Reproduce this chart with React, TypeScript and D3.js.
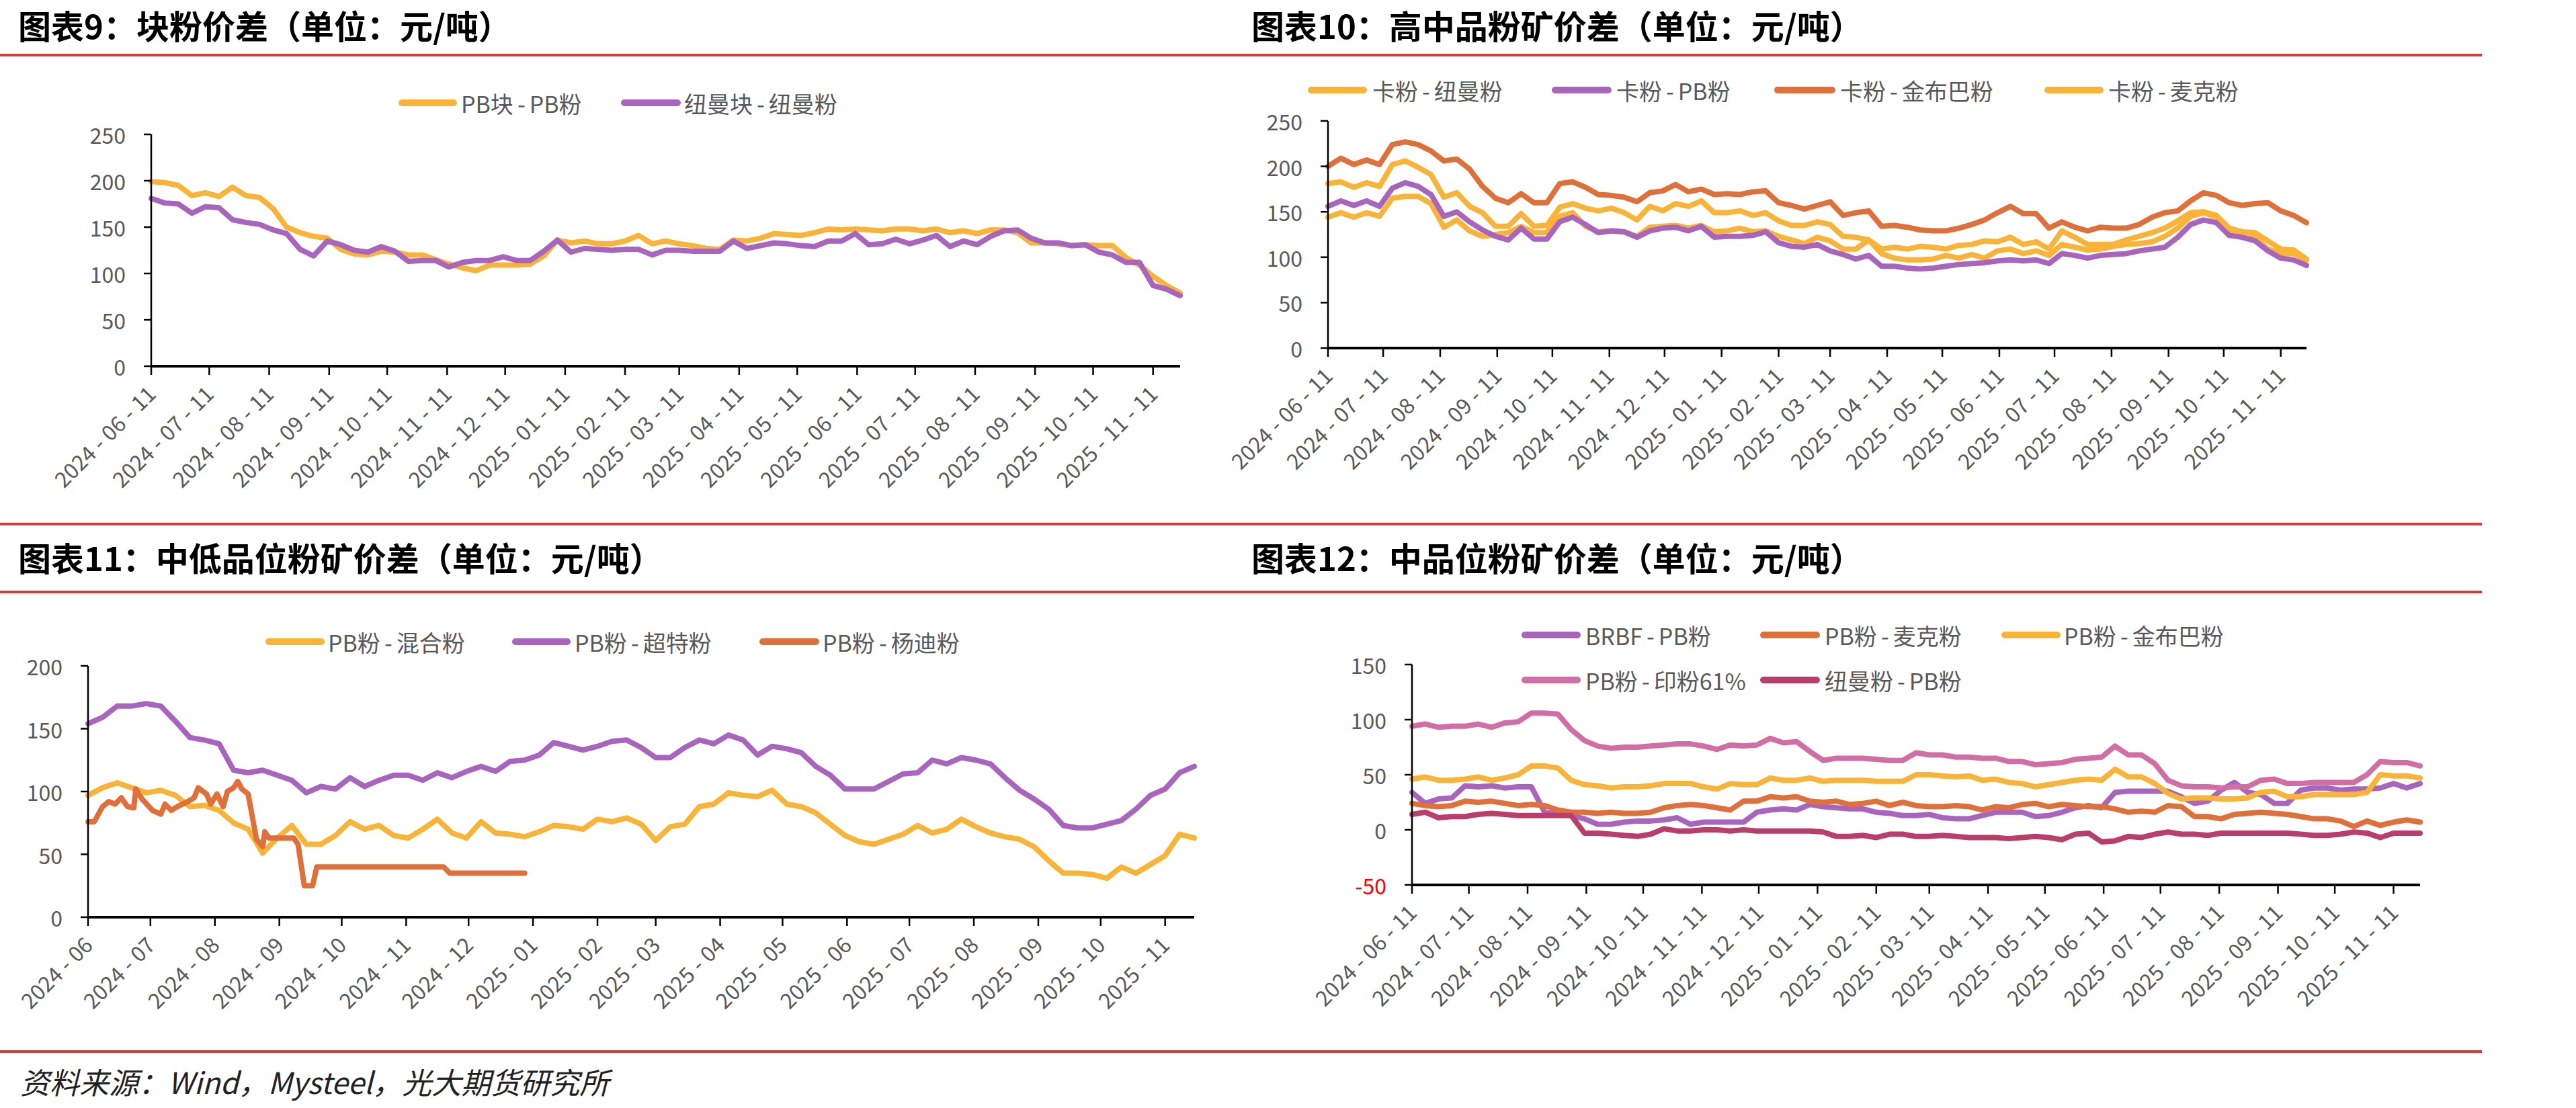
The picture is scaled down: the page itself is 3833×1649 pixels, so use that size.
import React from "react";
import * as d3 from "d3";

const FONT = '"Noto Sans CJK SC", "Noto Sans", sans-serif';
const W = 3833;
const H = 1649;

const YELLOW = "#F9B437";
const PURPLE = "#A965BE";
const ORANGE = "#E0703A";
const PINK = "#D26EA6";
const CRIMSON = "#BA3D6A";
const RED_RULE = "#D93A3A";
const GREY = "#595959";

// ---------- x-axis tick labels ----------
const dayTicks = [
  "2024-06-11", "2024-07-11", "2024-08-11", "2024-09-11", "2024-10-11", "2024-11-11",
  "2024-12-11", "2025-01-11", "2025-02-11", "2025-03-11", "2025-04-11", "2025-05-11",
  "2025-06-11", "2025-07-11", "2025-08-11", "2025-09-11", "2025-10-11", "2025-11-11",
];
const monthTicks = [
  "2024-06", "2024-07", "2024-08", "2024-09", "2024-10", "2024-11",
  "2024-12", "2025-01", "2025-02", "2025-03", "2025-04", "2025-05",
  "2025-06", "2025-07", "2025-08", "2025-09", "2025-10", "2025-11",
];

// ---------- 图表9: 块粉价差 (weekly from 2024-06-11) ----------
const pbLumpFines = [
  199, 198, 195, 184, 187, 183, 193, 184, 182, 170, 150, 144, 140, 138, 126, 121, 120, 124, 123, 120,
  120, 115, 110, 106, 103, 109, 109, 109, 110, 119, 136, 133, 135, 132, 132, 135, 141, 132, 135,
  132, 130, 127, 126, 136, 135, 138, 143, 142, 141, 144, 148, 147, 148, 147, 146, 148, 148, 146, 148,
  144, 146, 143, 147, 147, 144, 133, 133, 132, 130, 131, 130, 130, 117, 109, 97, 87, 79,
];
const newmanLumpFines = [
  181, 176, 175, 165, 172, 171, 158, 155, 153, 147, 143, 126, 119, 135, 131, 125, 123, 129, 124, 113,
  114, 114, 107, 112, 114, 114, 118, 114, 114, 124, 136, 123, 127, 126, 125, 126, 126, 120, 125,
  125, 124, 124, 124, 135, 127, 130, 133, 132, 130, 129, 135, 135, 143, 131, 132, 137, 132, 136, 141,
  129, 135, 131, 140, 146, 147, 138, 133, 133, 130, 131, 123, 120, 112, 112, 87, 83, 76,
];

// ---------- 图表10: 高中品粉矿价差 (weekly from 2024-06-11) ----------
const carajasNewman = [
  144, 149, 144, 149, 145, 165, 167, 167, 159, 133, 141, 129, 123, 125, 127, 134, 127, 127, 145, 149,
  134, 128, 129, 128, 123, 133, 134, 135, 132, 135, 128, 129, 132, 128, 129, 123, 119, 115, 122,
  118, 109, 109, 119, 104, 99, 97, 97, 98, 102, 99, 103, 99, 107, 109, 104, 107, 102, 114, 111,
  108, 109, 112, 114, 115, 117, 123, 132, 145, 149, 144, 128, 124, 122, 109, 104, 104, 97,
];
const carajasPB = [
  156, 162, 157, 162, 156, 176, 182, 178, 169, 145, 150, 139, 130, 123, 119, 132, 120, 120, 139, 144,
  136, 127, 129, 128, 122, 129, 132, 133, 129, 134, 122, 123, 123, 124, 128, 116, 112, 111, 114,
  107, 103, 98, 102, 90, 90, 88, 87, 88, 90, 92, 93, 94, 96, 97, 96, 97, 93, 104, 102,
  99, 102, 103, 104, 107, 109, 111, 122, 136, 141, 138, 124, 122, 118, 107, 99, 97, 91,
];
const carajasJimblebar = [
  200, 209, 202, 207, 202, 224, 227, 224, 217, 206, 208, 197, 178, 165, 160, 170, 160, 160, 181, 183,
  177, 169, 168, 166, 161, 171, 173, 180, 172, 175, 169, 170, 169, 172, 173, 160, 157, 153, 157,
  161, 146, 149, 151, 134, 135, 133, 130, 129, 129, 132, 136, 141, 149, 156, 148, 148, 132, 139, 133,
  129, 133, 132, 132, 136, 144, 149, 151, 162, 171, 168, 160, 157, 159, 160, 151, 146, 138,
];
const carajasMac = [
  181, 183, 177, 182, 178, 202, 206, 199, 191, 166, 171, 156, 149, 134, 134, 148, 134, 135, 155, 159,
  154, 151, 154, 149, 141, 156, 151, 159, 156, 162, 149, 149, 151, 146, 149, 140, 135, 135, 139,
  136, 123, 122, 119, 109, 111, 109, 112, 111, 109, 113, 114, 118, 117, 122, 114, 117, 109, 129, 122,
  114, 114, 114, 119, 123, 127, 132, 140, 149, 150, 146, 132, 128, 127, 118, 109, 108, 98,
];

// ---------- 图表11: 中低品位粉矿价差 (weekly from 2024-06-01) ----------
const pbMixed = [
  97, 103, 107, 103, 99, 101, 97, 88, 89, 85, 75, 70, 51, 63, 73, 58, 58, 65, 76, 70,
  73, 65, 63, 70, 78, 67, 63, 76, 67, 66, 64, 68, 73, 72, 70, 78, 76, 79, 74,
  61, 72, 74, 88, 90, 99, 97, 96, 101, 90, 88, 83, 74, 65, 60, 58, 62, 66, 73, 67,
  70, 78, 72, 67, 64, 62, 56, 45, 35, 35, 34, 31, 40, 35, 42, 49, 66, 63,
];
const pbSuperSpecial = [
  154, 159, 168, 168, 170, 168, 156, 143, 141, 138, 117, 115, 117, 113, 109, 99, 104, 102, 111, 104,
  109, 113, 113, 109, 115, 111, 116, 120, 116, 124, 125, 129, 139, 136, 133, 136, 140, 141, 135,
  127, 127, 135, 141, 138, 145, 141, 129, 136, 134, 131, 120, 113, 102, 102, 102, 108, 114, 115, 125,
  122, 127, 125, 122, 111, 101, 94, 86, 73, 71, 71, 74, 77, 86, 97, 102, 115, 120,
];
// PB粉-杨迪粉 is quoted irregularly, so it keeps its own dates
const yandiDates = [
  "2024-06-01", "2024-06-04", "2024-06-08", "2024-06-11", "2024-06-14", "2024-06-17", "2024-06-20",
  "2024-06-23", "2024-06-24", "2024-06-27", "2024-07-02", "2024-07-06", "2024-07-08", "2024-07-11",
  "2024-07-14", "2024-07-19", "2024-07-22", "2024-07-24", "2024-07-28", "2024-07-30", "2024-08-02",
  "2024-08-05", "2024-08-07", "2024-08-10", "2024-08-12", "2024-08-14", "2024-08-17", "2024-08-19",
  "2024-08-21", "2024-08-24", "2024-08-25", "2024-08-27", "2024-09-08", "2024-09-10", "2024-09-13",
  "2024-09-17", "2024-09-19", "2024-11-19", "2024-11-22", "2024-12-28",
];
const pbYandi = [
  76, 76, 88, 92, 90, 95, 88, 87, 102, 94, 85, 82, 90, 85, 88, 92, 95, 103, 98, 90,
  98, 88, 100, 103, 108, 102, 98, 80, 62, 56, 68, 63, 63, 58, 25, 25, 40, 40, 35, 35,
];

// ---------- 图表12: 中品位粉矿价差 (weekly from 2024-06-11) ----------
const brbfPB = [
  34, 24, 28, 29, 40, 39, 40, 38, 39, 39, 16, 14, 13, 10, 5, 5, 7, 8, 8, 9,
  11, 5, 7, 7, 7, 7, 16, 18, 19, 18, 23, 21, 20, 19, 19, 16, 15, 13, 13,
  14, 11, 10, 10, 13, 16, 16, 16, 12, 13, 16, 20, 22, 20, 34, 35, 35, 35, 35, 30,
  24, 26, 36, 43, 34, 32, 24, 24, 36, 38, 38, 36, 37, 37, 38, 42, 38, 42,
];
const pbMac = [
  24, 22, 21, 22, 26, 25, 26, 24, 22, 23, 22, 18, 16, 16, 15, 16, 15, 15, 16, 20,
  22, 23, 22, 20, 18, 26, 26, 30, 29, 30, 26, 25, 26, 23, 24, 26, 22, 25, 22,
  21, 21, 22, 21, 18, 21, 20, 23, 24, 21, 23, 22, 21, 21, 19, 16, 17, 16, 22, 21,
  12, 12, 10, 14, 15, 16, 15, 14, 12, 10, 10, 8, 3, 8, 4, 7, 9, 7,
];
const pbJimblebar = [
  46, 48, 45, 45, 46, 48, 45, 47, 50, 58, 58, 56, 45, 41, 40, 38, 39, 39, 40, 42,
  42, 42, 39, 37, 42, 41, 41, 47, 45, 45, 47, 44, 45, 45, 45, 44, 44, 44, 50,
  50, 49, 48, 49, 45, 46, 43, 42, 39, 41, 43, 45, 46, 45, 55, 48, 48, 42, 33, 28,
  29, 29, 28, 28, 29, 34, 35, 30, 30, 32, 32, 32, 32, 34, 50, 49, 49, 47,
];
const pbIndia61 = [
  94, 96, 93, 94, 94, 96, 93, 97, 98, 106, 106, 105, 91, 81, 76, 74, 75, 75, 76, 77,
  78, 78, 76, 73, 77, 76, 77, 83, 79, 80, 71, 63, 65, 65, 65, 64, 63, 63, 70,
  68, 68, 66, 66, 65, 65, 62, 62, 59, 60, 61, 64, 65, 66, 76, 68, 68, 60, 45, 40,
  39, 39, 38, 39, 39, 45, 46, 42, 42, 43, 43, 43, 43, 50, 62, 61, 61, 58,
];
const newmanPB = [
  14, 16, 11, 12, 12, 14, 15, 14, 13, 13, 13, 13, 13, -3, -3, -4, -5, -6, -4, 1,
  -1, -1, 0, 0, -1, 0, -1, -1, -1, -1, -1, -2, -6, -6, -5, -7, -4, -4, -6,
  -6, -5, -6, -7, -7, -7, -8, -7, -6, -7, -9, -4, -3, -11, -10, -6, -7, -4, -2, -4,
  -4, -5, -3, -3, -3, -3, -3, -3, -4, -5, -5, -4, -2, -3, -7, -3, -3, -3,
];

// ---------- helpers ----------
const parseDay = d3.timeParse("%Y-%m-%d");
const parseMonth = d3.timeParse("%Y-%m");
const weekly = (start: string, n: number) =>
  d3.range(n).map((i) => d3.timeDay.offset(parseDay(start) as Date, 7 * i));

type Series = { name: string; color: string; dates: Date[]; values: number[] };
type LegendItem = { name: string; color: string; x0: number; x1: number; tx: number };
type Panel = {
  key: string;
  title: string;
  titleX: number;
  titleY: number;
  xRange: [number, number];
  xDomain: [Date, Date];
  yRange: [number, number];
  yDomain: [number, number];
  yTicks: number[];
  xTicks: { date: Date; label: string }[];
  series: Series[];
  legend: { y: number; items: LegendItem[] }[];
};

const d1 = weekly("2024-06-11", 77);
const d3w = weekly("2024-06-01", 77);
const dayTickObjs = dayTicks.map((t) => ({ date: parseDay(t) as Date, label: t }));
const monthTickObjs = monthTicks.map((t) => ({ date: parseMonth(t) as Date, label: t }));

const panels: Panel[] = [
  {
    key: "p9",
    title: "图表9：块粉价差（单位：元/吨）",
    titleX: 27,
    titleY: 58,
    xRange: [225, 1756],
    xDomain: [parseDay("2024-06-11") as Date, parseDay("2025-11-25") as Date],
    yRange: [545, 200],
    yDomain: [0, 250],
    yTicks: [0, 50, 100, 150, 200, 250],
    xTicks: dayTickObjs,
    series: [
      { name: "PB块-PB粉", color: YELLOW, dates: d1, values: pbLumpFines },
      { name: "纽曼块-纽曼粉", color: PURPLE, dates: d1, values: newmanLumpFines },
    ],
    legend: [
      {
        y: 153,
        items: [
          { name: "PB块-PB粉", color: YELLOW, x0: 594, x1: 679, tx: 686 },
          { name: "纽曼块-纽曼粉", color: PURPLE, x0: 925, x1: 1012, tx: 1018 },
        ],
      },
    ],
  },
  {
    key: "p10",
    title: "图表10：高中品粉矿价差（单位：元/吨）",
    titleX: 1862,
    titleY: 58,
    xRange: [1976, 3432],
    xDomain: [parseDay("2024-06-11") as Date, parseDay("2025-11-25") as Date],
    yRange: [518, 180],
    yDomain: [0, 250],
    yTicks: [0, 50, 100, 150, 200, 250],
    xTicks: dayTickObjs,
    series: [
      { name: "卡粉-纽曼粉", color: YELLOW, dates: d1, values: carajasNewman },
      { name: "卡粉-PB粉", color: PURPLE, dates: d1, values: carajasPB },
      { name: "卡粉-金布巴粉", color: ORANGE, dates: d1, values: carajasJimblebar },
      { name: "卡粉-麦克粉", color: YELLOW, dates: d1, values: carajasMac },
    ],
    legend: [
      {
        y: 134,
        items: [
          { name: "卡粉-纽曼粉", color: YELLOW, x0: 1947, x1: 2033, tx: 2042 },
          { name: "卡粉-PB粉", color: PURPLE, x0: 2310, x1: 2397, tx: 2405 },
          { name: "卡粉-金布巴粉", color: ORANGE, x0: 2641, x1: 2730, tx: 2738 },
          { name: "卡粉-麦克粉", color: YELLOW, x0: 3043, x1: 3129, tx: 3137 },
        ],
      },
    ],
  },
  {
    key: "p11",
    title: "图表11：中低品位粉矿价差（单位：元/吨）",
    titleX: 27,
    titleY: 850,
    xRange: [131, 1777],
    xDomain: [parseDay("2024-06-01") as Date, parseDay("2025-11-15") as Date],
    yRange: [1365, 991],
    yDomain: [0, 200],
    yTicks: [0, 50, 100, 150, 200],
    xTicks: monthTickObjs,
    series: [
      { name: "PB粉-混合粉", color: YELLOW, dates: d3w, values: pbMixed },
      { name: "PB粉-超特粉", color: PURPLE, dates: d3w, values: pbSuperSpecial },
      {
        name: "PB粉-杨迪粉",
        color: ORANGE,
        dates: yandiDates.map((s) => parseDay(s) as Date),
        values: pbYandi,
      },
    ],
    legend: [
      {
        y: 955,
        items: [
          { name: "PB粉-混合粉", color: YELLOW, x0: 396, x1: 482, tx: 488 },
          { name: "PB粉-超特粉", color: PURPLE, x0: 763, x1: 848, tx: 855 },
          { name: "PB粉-杨迪粉", color: ORANGE, x0: 1131, x1: 1218, tx: 1224 },
        ],
      },
    ],
  },
  {
    key: "p12",
    title: "图表12：中品位粉矿价差（单位：元/吨）",
    titleX: 1862,
    titleY: 850,
    xRange: [2101, 3601],
    xDomain: [parseDay("2024-06-11") as Date, parseDay("2025-11-25") as Date],
    yRange: [1317, 989],
    yDomain: [-50, 150],
    yTicks: [-50, 0, 50, 100, 150],
    xTicks: dayTickObjs,
    series: [
      { name: "BRBF-PB粉", color: PURPLE, dates: d1, values: brbfPB },
      { name: "PB粉-麦克粉", color: ORANGE, dates: d1, values: pbMac },
      { name: "PB粉-金布巴粉", color: YELLOW, dates: d1, values: pbJimblebar },
      { name: "PB粉-印粉61%", color: PINK, dates: d1, values: pbIndia61 },
      { name: "纽曼粉-PB粉", color: CRIMSON, dates: d1, values: newmanPB },
    ],
    legend: [
      {
        y: 945,
        items: [
          { name: "BRBF-PB粉", color: PURPLE, x0: 2265, x1: 2351, tx: 2359 },
          { name: "PB粉-麦克粉", color: ORANGE, x0: 2620, x1: 2707, tx: 2715 },
          { name: "PB粉-金布巴粉", color: YELLOW, x0: 2979, x1: 3065, tx: 3071 },
        ],
      },
      {
        y: 1012,
        items: [
          { name: "PB粉-印粉61%", color: PINK, x0: 2265, x1: 2351, tx: 2359 },
          { name: "纽曼粉-PB粉", color: CRIMSON, x0: 2620, x1: 2707, tx: 2715 },
        ],
      },
    ],
  },
];

// Text whose hyphens get a little breathing room, keeping the plain string intact
function Dashed({ text, pad }: { text: string; pad: number }) {
  const parts = text.split("-");
  const out: React.ReactNode[] = [];
  parts.forEach((p, i) => {
    if (i > 0) {
      out.push(
        <tspan key={"h" + i} dx={pad}>
          -
        </tspan>
      );
    }
    out.push(
      <tspan key={"p" + i} dx={i > 0 ? pad : 0}>
        {p}
      </tspan>
    );
  });
  return <>{out}</>;
}

function ChartPanel({ p }: { p: Panel }) {
  const x = d3.scaleTime().domain(p.xDomain).range(p.xRange);
  const y = d3.scaleLinear().domain(p.yDomain).range(p.yRange);
  const axisY = y(p.yDomain[0]);
  const axisX = p.xRange[0];

  const line = d3
    .line<[Date, number]>()
    .x((d) => x(d[0]))
    .y((d) => y(d[1]));

  return (
    <g>
      <text
        x={p.titleX}
        y={p.titleY}
        fontFamily={FONT}
        fontWeight={700}
        fontSize={49}
        fill="#000"
      >
        {p.title}
      </text>

      {/* legend */}
      {p.legend.map((row, ri) => (
        <g key={ri}>
          {row.items.map((it) => (
            <g key={it.name}>
              <line
                x1={it.x0 + 4}
                x2={it.x1 - 4}
                y1={row.y}
                y2={row.y}
                stroke={it.color}
                strokeWidth={10}
                strokeLinecap="round"
              />
              <text
                x={it.tx}
                y={row.y}
                dominantBaseline="central"
                fontFamily={FONT}
                fontSize={34}
                fill={GREY}
              >
                <Dashed text={it.name} pad={6} />
              </text>
            </g>
          ))}
        </g>
      ))}

      {/* series */}
      {p.series.map((s) => (
        <path
          key={s.name}
          d={line(s.dates.map((d, i) => [d, s.values[i]] as [Date, number])) || ""}
          fill="none"
          stroke={s.color}
          strokeWidth={8}
          strokeLinejoin="round"
          strokeLinecap="round"
        />
      ))}

      {/* y axis */}
      <line
        x1={axisX}
        x2={axisX}
        y1={y(p.yDomain[1])}
        y2={axisY}
        stroke="#000"
        strokeWidth={2.5}
      />
      {p.yTicks.map((t) => (
        <g key={t}>
          <line x1={axisX - 11} x2={axisX} y1={y(t)} y2={y(t)} stroke="#000" strokeWidth={2.5} />
          <text
            x={axisX - 38}
            y={y(t)}
            textAnchor="end"
            dominantBaseline="central"
            fontFamily={FONT}
            fontSize={32}
            fill={t < 0 ? "#FF0000" : GREY}
          >
            {t}
          </text>
        </g>
      ))}

      {/* x axis */}
      <line
        x1={axisX}
        x2={p.xRange[1]}
        y1={axisY}
        y2={axisY}
        stroke="#000"
        strokeWidth={4}
      />
      {p.xTicks.map((t) => {
        const tx = x(t.date);
        return (
          <g key={t.label}>
            <line x1={tx} x2={tx} y1={axisY} y2={axisY + 13} stroke="#000" strokeWidth={2.5} />
            <text
              transform={`translate(${tx + 9},${axisY + 44}) rotate(-45)`}
              textAnchor="end"
              fontFamily={FONT}
              fontSize={32}
              fill={GREY}
            >
              <Dashed text={t.label} pad={8} />
            </text>
          </g>
        );
      })}
    </g>
  );
}

export default function App() {
  const rules = [82, 780, 881, 1565];
  return (
    <svg
      width={W}
      height={H}
      viewBox={`0 0 ${W} ${H}`}
      style={{ position: "absolute", left: 0, top: 0, display: "block", background: "#fff" }}
    >
      <rect x={0} y={0} width={W} height={H} fill="#fff" />
      {rules.map((ry) => (
        <line key={ry} x1={0} x2={3693} y1={ry} y2={ry} stroke={RED_RULE} strokeWidth={4} />
      ))}
      {panels.map((p) => (
        <ChartPanel key={p.key} p={p} />
      ))}
      <text
        x={30}
        y={1628}
        fontFamily={FONT}
        fontStyle="italic"
        fontSize={44}
        fill="#222"
      >
        资料来源：Wind，Mysteel，光大期货研究所
      </text>
    </svg>
  );
}
